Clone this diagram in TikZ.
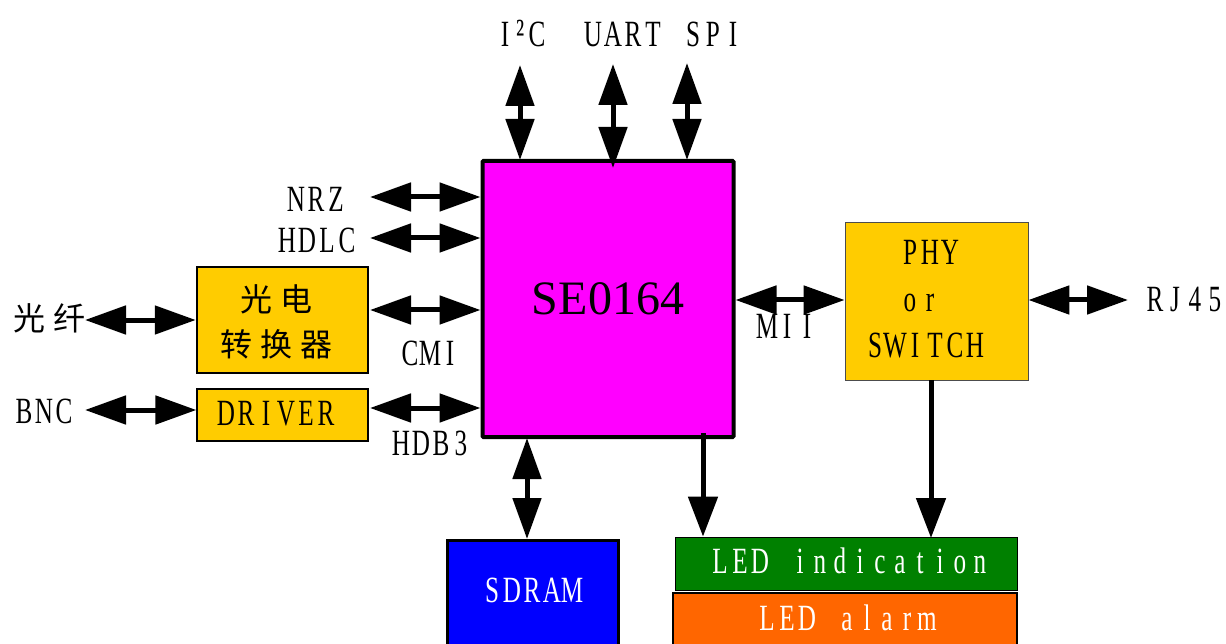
\documentclass[tikz,border=0pt]{standalone}
\usepackage{fontspec}
\setmainfont{Liberation Serif}
\newfontfamily\nar[FakeStretch=0.68]{Liberation Serif}
\newfontfamily\cjkf[LetterSpace=25]{Noto Sans CJK SC}
\usetikzlibrary{arrows.meta}
\definecolor{magbox}{HTML}{FF00FF}
\definecolor{yelbox}{HTML}{FFCC00}
\definecolor{blubox}{HTML}{0000FF}
\definecolor{grnbox}{HTML}{008000}
\definecolor{orgbox}{HTML}{FF6600}
\makeatletter
\newcommand\mono[1]{\@tfor\mch:=#1\do{\makebox[20pt][c]{\mch}}}
\makeatother
\begin{document}
\begin{tikzpicture}[x=1pt,y=-1pt,
  lbl/.style={font=\nar\fontsize{37}{45}\selectfont, inner sep=0pt, anchor=base},
  cjklbl/.style={font=\cjkf\fontsize{32}{45}\selectfont, inner sep=0pt, align=center},
  blk/.style={draw=black, inner sep=0pt},
  dbl/.style={line width=5pt, {Triangle[length=41pt,width=28pt]}-{Triangle[length=41pt,width=28pt]}},
  sgl/.style={line width=5pt, -{Triangle[length=40pt,width=29pt]}}]
\useasboundingbox (0,0) rectangle (1226,644);
\clip (0,0) rectangle (1226,644);
% main chip
\node[blk, fill=magbox, line width=4pt, rounded corners=1pt, minimum width=251pt, minimum height=276pt,
  font=\fontsize{48}{50}\selectfont] (se) at (608,299) {SE0164};
% left boxes
\node[blk, fill=yelbox, line width=2.5pt, minimum width=171pt, minimum height=106pt] (oe) at (282.5,320) {};
\node[cjklbl] (oet) at (276,322) {光电\\转换器};
\node[blk, fill=yelbox, line width=1.2pt, minimum width=171pt, minimum height=52pt] (drv) at (282.5,415) {};
\node[lbl] (drvt) at (276,425) {\mono{DRIVER}};
% PHY
\node[blk, draw=black!70, fill=yelbox, line width=0.8pt, minimum width=183pt, minimum height=158pt] (phy) at (936.5,301) {};
\node[lbl] (phy1) at (930,265) {\mono{PHY}};
\node[lbl] (phy2) at (920,312) {\mono{or}};
\node[lbl] (phy3) at (925,357) {\mono{SWITCH}};
% SDRAM
\node[blk, fill=blubox, line width=3pt, minimum width=171pt, minimum height=130pt] (sd) at (532.5,605) {};
\node[lbl, text=white] (sdt) at (532,602) {\mono{SDRAM}};
% LED
\node[blk, fill=grnbox, line width=0.8pt, minimum width=342pt, minimum height=53pt] (ledi) at (846,563.5) {};
\node[lbl, text=white] (ledit) at (850,573) {\mono{LED~indication}};
\node[blk, fill=orgbox, line width=2.5pt, minimum width=344pt, minimum height=70pt] (leda) at (845,628) {};
\node[lbl, text=white] (ledat) at (847,630) {\mono{LED~alarm}};

% labels
\node[lbl] (i2c) at (521,47) {\makebox[17pt]{I}\makebox[15pt]{\fontsize{40}{45}\selectfont ²}\makebox[17pt]{C}};
\node[lbl] (uart) at (623,47) {\mono{UART}};
\node[lbl] (spi) at (713,47) {\mono{SPI}};
\node[lbl] (nrz) at (316,212) {\mono{NRZ}};
\node[lbl] (hdlc) at (317,253) {\mono{HDLC}};
\node[lbl] (cmi) at (430,365) {\mono{CMI}};
\node[lbl] (hdb) at (431,455) {\mono{HDB3}};
\node[cjklbl] (fib) at (49,318) {光纤};
\node[lbl] (bnc) at (44,423) {\mono{BNC}};
\node[lbl] (mii) at (787,338) {\mono{MII}};
\node[lbl] (rj) at (1185,312) {\mono{RJ45}};

% coordinates for free ends
\coordinate (i2cT) at (520,65);
\coordinate (i2cB) at (520,160);
\coordinate (uaT) at (613,64);
\coordinate (uaB) at (613,168);
\coordinate (spT) at (687,63);
\coordinate (spB) at (687,160);
\coordinate (nrzL) at (370,197);
\coordinate (hdlcL) at (370,238);
\coordinate (cmiL) at (370,310);
\coordinate (hdbL) at (370,408);
\coordinate (fibL) at (85,320);
\coordinate (bncL) at (85,410);
\coordinate (rjR) at (1128,300);
\coordinate (ledA) at (703,433);

% arrows
\draw[dbl] (i2cT) -- (i2cB);
\draw[dbl] (uaT) -- (uaB);
\draw[dbl] (spT) -- (spB);
\draw[dbl] (nrzL) -- (nrzL -| se.west);
\draw[dbl] (hdlcL) -- (hdlcL -| se.west);
\draw[dbl] (cmiL) -- (cmiL -| se.west);
\draw[dbl] (hdbL) -- (hdbL -| se.west);
\draw[dbl] (fibL) -- (fibL -| oe.west);
\draw[dbl] (bncL) -- (bncL -| drv.west);
\draw[dbl] (se.east |- 0,300) -- (phy.west |- 0,300);
\draw[dbl] (phy.east |- 0,300) -- (rjR);
\draw[dbl] (527,438) -- (527,539);
\draw[sgl] (ledA) -- (ledA |- ledi.north);
\draw[sgl] (931,380) -- (931,538);
\end{tikzpicture}
\end{document}
